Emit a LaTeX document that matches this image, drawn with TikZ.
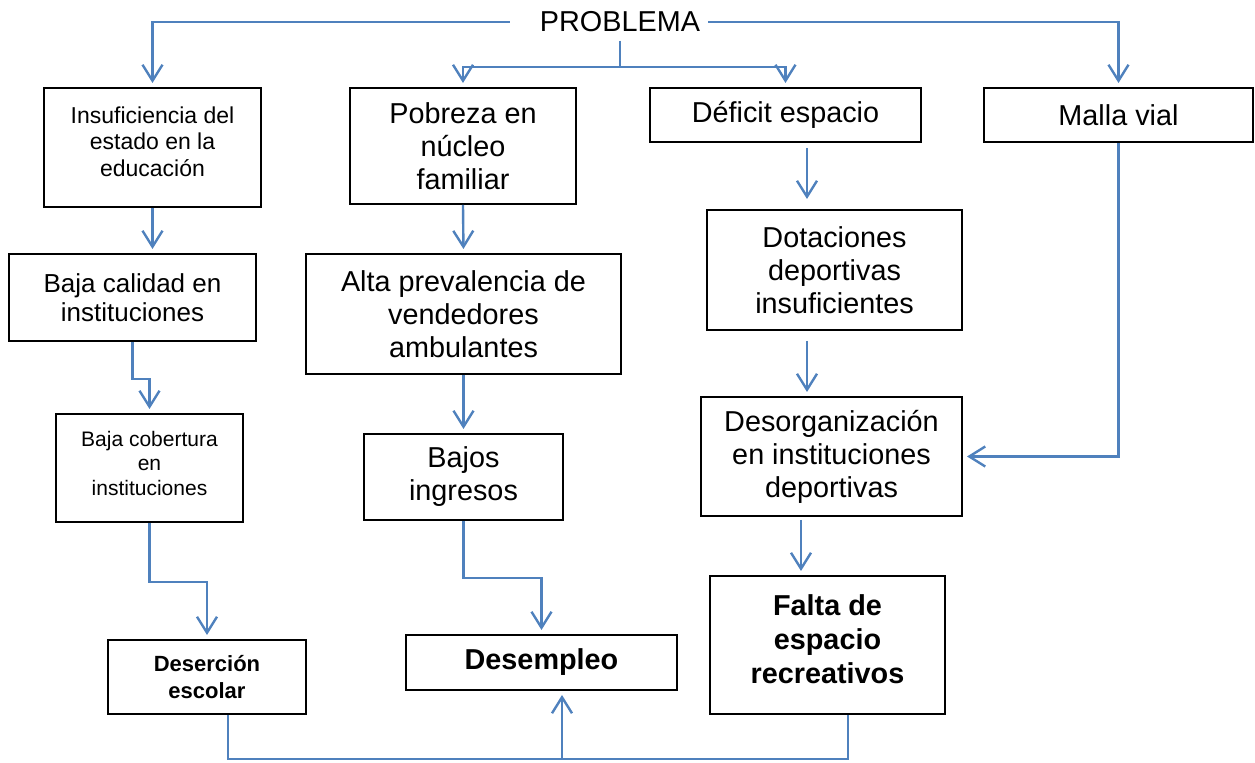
\documentclass[tikz,border=0pt]{standalone}
\usepackage{fontspec}
\setmainfont{Liberation Sans}
\usepackage{tikz}
\usetikzlibrary{arrows.meta, positioning, calc}
\definecolor{linkblue}{RGB}{79,129,189}

\begin{document}
\begin{tikzpicture}[
    x=0.5pt, y=-0.5pt,
    box/.style={rectangle, draw=black, line width=1pt, fill=white, align=center, inner sep=0pt},
    bigtext/.style={font=\fontsize{14.4}{16.5}\selectfont},
    midtext/.style={font=\fontsize{13}{14.5}\selectfont},
    smalltext/.style={font=\fontsize{11.5}{13.3}\selectfont},
    tinytext/.style={font=\fontsize{10.5}{12.2}\selectfont},
    linkline/.style={draw=linkblue, line width=1.2pt, line join=miter},
    link/.style={linkline, -{Straight Barb[length=8pt, width=10pt]}, shorten >=2pt}
]
\useasboundingbox (0,0) rectangle (1255,763);

%=== Problem and first level causes ===
\node[bigtext, inner sep=0pt] (prob) at (620,22) {PROBLEMA};

\node[box, smalltext, minimum width=108.5pt, minimum height=59.5pt] (insuf) at (152.5,147.5)
    {Insuficiencia del\\estado en la\\educación\\[-7.3pt]};
\node[box, bigtext, minimum width=113pt, minimum height=58pt] (pobreza) at (463,146)
    {Pobreza en\\núcleo\\familiar};
\node[box, bigtext, minimum width=135.5pt, minimum height=27pt] (deficit) at (785.5,115)
    {Déficit espacio};
\node[box, bigtext, minimum width=134.5pt, minimum height=27pt] (malla) at (1118.5,115)
    {Malla vial};

%=== Second and third level ===
\node[box, midtext, minimum width=123.5pt, minimum height=43.5pt] (bcal) at (132.5,297.5)
    {Baja calidad en\\instituciones};
\node[box, tinytext, minimum width=93.5pt, minimum height=54pt] (bcob) at (149.5,468)
    {Baja cobertura\\en\\instituciones\\[-7.2pt]};
\node[box, bigtext, minimum width=157.5pt, minimum height=60pt] (alta) at (463.5,314)
    {Alta prevalencia de\\vendedores\\ambulantes};
\node[box, bigtext, minimum width=99.5pt, minimum height=43pt] (bajos) at (463.5,477)
    {Bajos\\ingresos};
\node[box, bigtext, minimum width=127.5pt, minimum height=60pt] (dotac) at (834.5,270)
    {Dotaciones\\deportivas\\insuficientes};
\node[box, bigtext, minimum width=130.5pt, minimum height=59.5pt] (desorg) at (831.5,456.5)
    {Desorganización\\en instituciones\\deportivas};

%=== Effects (bold) ===
\node[box, font=\bfseries\fontsize{11}{13.5}\selectfont, minimum width=99pt, minimum height=37pt] (deser) at (207,677)
    {Deserción\\escolar};
\node[box, font=\bfseries\fontsize{14.4}{16.5}\selectfont, minimum width=135.5pt, minimum height=27.5pt] (desem) at (541.5,662.5)
    {Desempleo};
\node[box, font=\bfseries\fontsize{14.4}{17}\selectfont, minimum width=117.5pt, minimum height=69pt] (falta) at (827.5,645)
    {Falta de\\espacio\\recreativos\\[-11pt]};

% branches from the problem
\coordinate (split) at (620,67);
\draw[link] ([xshift=-15pt]prob.west) -| (insuf.north);
\draw[linkline, shorten <=4pt] (prob.south) -- (split);
\draw[link] (split) -| (pobreza.north);
\draw[link] (split) -| (deficit.north);
\draw[link] ([xshift=4pt]prob.east) -| (malla.north);

% education chain
\draw[link] (insuf.south) -- (insuf.south |- bcal.north);
\draw[link] (bcal.south) -- ++(0,37) -| (bcob.north);
\draw[link] (bcob.south) -- ++(0,59) -| (deser.north);

% poverty chain
\draw[link] (pobreza.south) -- (alta.north);
\draw[link] (alta.south) -- (bajos.north);
\draw[link] (bajos.south) -- ++(0,57) -| (desem.north);

% sport space chain
\draw[link, shorten <=2.5pt, shorten >=5pt] ([xshift=10.75pt]deficit.south) -- ([xshift=10.75pt]deficit.south |- dotac.north);
\draw[link, shorten <=5pt] ([xshift=-13.75pt]dotac.south) -- ([xshift=-13.75pt]dotac.south |- desorg.north);
\draw[link] (malla.south) |- (desorg.east);
\draw[link, shorten <=1.5pt] ([xshift=-15.25pt]desorg.south) -- ([xshift=-15.25pt]desorg.south |- falta.north);

% bottom return to unemployment
\coordinate (base) at (562,759);
\draw[linkline] ([xshift=10.5pt]deser.south) |- (base) -| ([xshift=10.25pt]falta.south);
\draw[link] (base) -- (base |- desem.south);

\end{tikzpicture}
\end{document}
